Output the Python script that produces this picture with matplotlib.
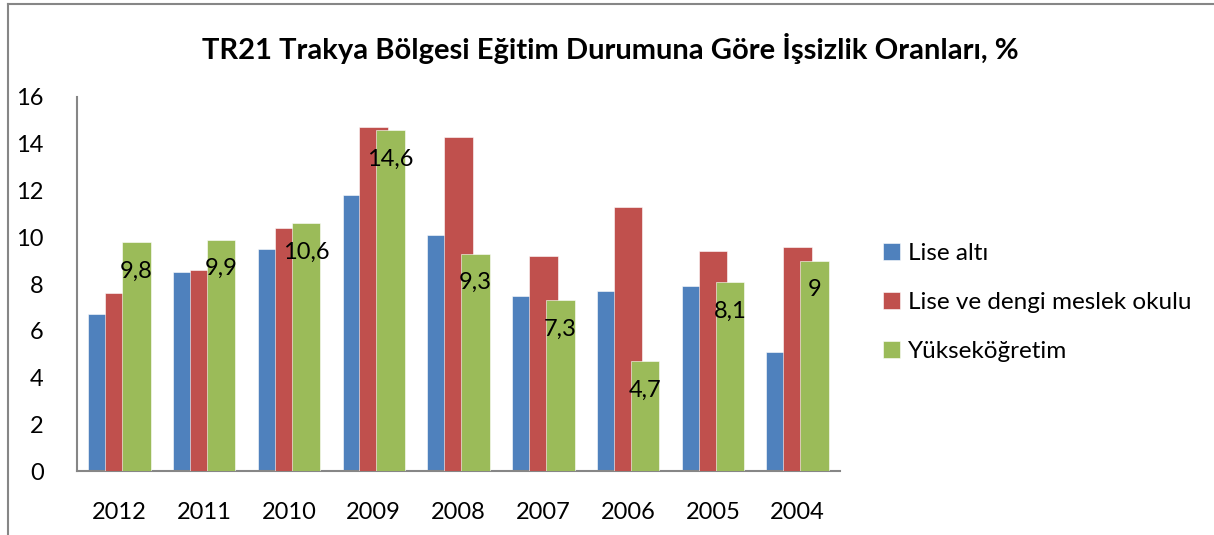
import matplotlib
matplotlib.use('Agg')
import matplotlib.pyplot as plt
from matplotlib.lines import Line2D
import numpy as np

plt.rcParams['font.family'] = ['Lato', 'DejaVu Sans']

years = ['2012', '2011', '2010', '2009', '2008', '2007', '2006', '2005', '2004']
lise_alti = [6.7, 8.5, 9.5, 11.8, 10.1, 7.5, 7.7, 7.9, 5.1]
lise_meslek = [7.6, 8.6, 10.4, 14.7, 14.3, 9.2, 11.3, 9.4, 9.6]
yuksek = [9.8, 9.9, 10.6, 14.6, 9.3, 7.3, 4.7, 8.1, 9.0]
series_names = ['Lise altı', 'Lise ve dengi meslek okulu', 'Yükseköğretim']
colors = ['#4F81BD', '#C0504D', '#9BBB59']

fig = plt.figure(figsize=(12.14, 5.35), dpi=100)
ax = fig.add_axes([0.0634, 0.1196, 0.6286, 0.6991])

x = np.arange(len(years))
w = 0.336
off = 0.2
series = [lise_alti, lise_meslek, yuksek]
bars = []
for i, (vals, c, name) in enumerate(zip(series, colors, series_names)):
    b = ax.bar(x + (i - 1) * off, vals, width=w, color=c, label=name,
               edgecolor='white', linewidth=0.4, zorder=2 + i)
    bars.append(b)

def fmt(v):
    s = ('%g' % v).replace('.', ',')
    return s

for rect, v in zip(bars[2], yuksek):
    ax.text(rect.get_x() + rect.get_width() / 2, v - 1.25, fmt(v),
            ha='center', va='center', fontsize=17, color='black', zorder=10)

ax.set_xlim(-0.5, len(years) - 0.5)
ax.set_ylim(0, 16)
ax.set_yticks(range(0, 17, 2))
ax.set_xticks(x)
ax.set_xticklabels(years)
ax.tick_params(axis='both', length=0, labelsize=17)
ax.tick_params(axis='y', pad=24)
ax.tick_params(axis='x', pad=22)
for s in ['top', 'right']:
    ax.spines[s].set_visible(False)
for s in ['left', 'bottom']:
    ax.spines[s].set_color('#868686')
    ax.spines[s].set_linewidth(1.5)

fig.text(0.503, 0.91, 'TR21 Trakya Bölgesi Eğitim Durumuna Göre İşsizlik Oranları, %',
         ha='center', va='center', fontsize=21, fontweight='bold')

fig.legend(handles=[bars[0], bars[1], bars[2]], labels=series_names,
           loc='center left', bbox_to_anchor=(0.709, 0.434), frameon=False,
           fontsize=17.5, handlelength=0.7, handleheight=0.7,
           handletextpad=0.35, labelspacing=1.15)

# outer chart border (left and top only)
fig.add_artist(Line2D([8 / 1214, 8 / 1214], [0, 1 - 4 / 535], color='#868686', lw=1.5))
fig.add_artist(Line2D([8 / 1214, 1], [1 - 4 / 535, 1 - 4 / 535], color='#868686', lw=1.5))

fig.savefig('out.png', dpi=100)
